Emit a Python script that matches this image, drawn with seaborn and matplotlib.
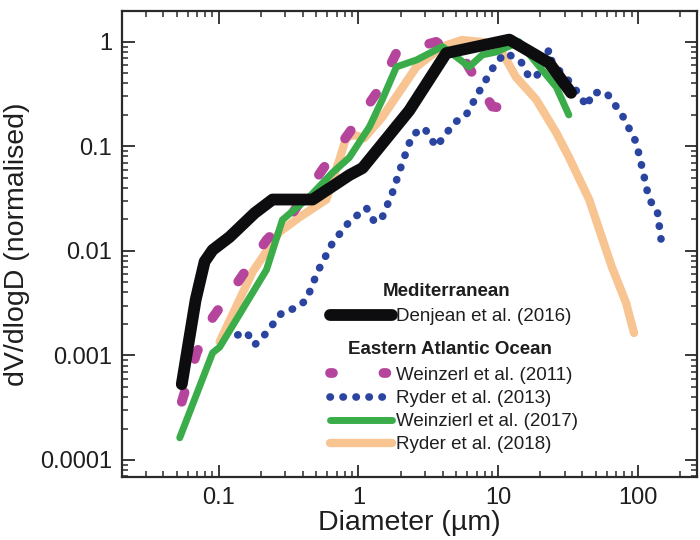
import numpy as np
import pandas as pd
import matplotlib
matplotlib.use('Agg')
import matplotlib.pyplot as plt
import seaborn as sns
from matplotlib.lines import Line2D
from matplotlib.ticker import LogLocator, FuncFormatter, NullFormatter

# Denjean et al. (2016) - Mediterranean
denjean_d = [0.0545, 0.0685, 0.0794, 0.0906, 0.12, 0.181, 0.243, 0.47, 0.86, 1.07, 2.31, 4.25, 12.0, 23.1, 33.2]
denjean_v = [0.00053, 0.0034, 0.0079, 0.0102, 0.0136, 0.023, 0.031, 0.031, 0.053, 0.062, 0.22, 0.78, 1.05, 0.63, 0.325]

# Weinzerl et al. (2011)
weinz11_d = [0.0545, 0.0696, 0.0906, 0.141, 0.22, 0.338, 0.553, 0.86, 1.35, 1.87, 3.6, 5.9, 9.06, 15.3]
weinz11_v = [0.00036, 0.00106, 0.0023, 0.0053, 0.0127, 0.023, 0.06, 0.135, 0.325, 0.785, 1.0, 0.63, 0.24, 0.22]

# Ryder et al. (2013)
ryder13_d = [0.137, 0.158, 0.181, 0.213, 0.286, 0.36, 0.425, 0.51, 0.652, 0.86, 1.14, 1.3, 1.46, 1.75,
             2.06, 2.43, 2.96, 3.6, 4.85, 5.9, 7.56, 9.7, 11.4, 14.6, 16.6, 18.7, 23.1, 24.3, 33.8,
             43.2, 46.9, 59.0, 76.9, 96.8, 108.7, 120.0, 137.0, 146.0]
ryder13_v = [0.00157, 0.00168, 0.00126, 0.00157, 0.0026, 0.00285, 0.0034, 0.0063, 0.0119, 0.019, 0.0258,
             0.019, 0.02, 0.036, 0.0695, 0.129, 0.15, 0.099, 0.168, 0.2, 0.363, 0.64, 0.785, 0.64, 0.46,
             0.46, 0.84, 0.63, 0.39, 0.24, 0.325, 0.33, 0.2, 0.11, 0.057, 0.031, 0.0247, 0.013]

# Weinzierl et al. (2017)
weinz17_d = [0.0527, 0.0906, 0.1017, 0.22, 0.286, 0.447, 0.652, 0.86, 1.2, 1.48, 1.87, 2.6, 3.98, 5.0,
             6.2, 7.7, 9.7, 14.1, 18.7, 26.0, 32.0]
weinz17_v = [0.000163, 0.00106, 0.0012, 0.0066, 0.0198, 0.033, 0.056, 0.078, 0.154, 0.279, 0.576, 0.67,
             0.9, 0.72, 0.576, 0.75, 0.8, 1.0, 0.63, 0.37, 0.2]

# Ryder et al. (2018)
ryder18_d = [0.1017, 0.175, 0.273, 0.379, 0.59, 0.73, 0.82, 0.94, 1.1, 1.48, 2.6, 3.98, 5.5, 8.6, 10.7,
             13.4, 18.7, 26.0, 32.0, 44.7, 65.0, 82.0, 93.6]
ryder18_v = [0.00135, 0.0063, 0.0152, 0.021, 0.031, 0.074, 0.123, 0.128, 0.12, 0.19, 0.576, 0.9, 1.04,
             0.98, 0.785, 0.46, 0.28, 0.135, 0.079, 0.031, 0.007, 0.0032, 0.00164]

x_ticks = [0.1, 1, 10, 100]
y_ticks = [0.0001, 0.001, 0.01, 0.1, 1]

sns.set_style('ticks')
plt.rcParams['font.family'] = ['Liberation Sans', 'DejaVu Sans']
text_col = '#1e1e1e'

fig, ax = plt.subplots(figsize=(7, 5.4), dpi=100)
fig.subplots_adjust(left=0.174, right=0.996, top=0.98, bottom=0.117)

series = [
    (ryder18_d, ryder18_v, '#f7c492', 6.0, '-', 'Ryder et al. (2018)', 1),
    (weinz11_d, weinz11_v, '#b4449c', 7.0, (0, (1.0, 3.6)), 'Weinzerl et al. (2011)', 2),
    (ryder13_d, ryder13_v, '#2a44a0', 5.5, (0, (0.05, 1.65)), 'Ryder et al. (2013)', 3),
    (weinz17_d, weinz17_v, '#3aad4a', 5.0, '-', 'Weinzierl et al. (2017)', 4),
    (denjean_d, denjean_v, '#0d0d10', 8.5, '-', 'Denjean et al. (2016)', 5),
]
handles = {}
for d, v, col, lw, ls, lab, z in series:
    df = pd.DataFrame({'d': d, 'v': v})
    sns.lineplot(data=df, x='d', y='v', ax=ax, color=col, lw=lw, linestyle=ls,
                 sort=False, estimator=None, zorder=z,
                 solid_capstyle='round', dash_capstyle='round', solid_joinstyle='round')
    handles[lab] = ax.lines[-1]

# legend proxy for the dashed series: two rounded dashes at the ends
handles['Weinzerl et al. (2011)'] = Line2D([], [], color='#b4449c', lw=7.0,
                                           linestyle=(0, (0.3, 5.2)), dash_capstyle='round')

ax.set_xscale('log')
ax.set_yscale('log')
ax.set_xlim(0.0203, 265)
ax.set_ylim(6.9e-5, 1.98)

fmt = FuncFormatter(lambda val, pos: '{:g}'.format(val))
ax.xaxis.set_minor_locator(LogLocator(base=10, subs=np.arange(2, 10)))
ax.yaxis.set_minor_locator(LogLocator(base=10, subs=np.arange(2, 10)))
ax.set_xticks(x_ticks)
ax.set_yticks(y_ticks)
ax.xaxis.set_major_formatter(fmt)
ax.yaxis.set_major_formatter(fmt)
ax.xaxis.set_minor_formatter(NullFormatter())
ax.yaxis.set_minor_formatter(NullFormatter())

ax.tick_params(which='both', direction='in', top=True, right=True, colors='#2a2a2a',
               labelcolor=text_col, labelsize=17)
ax.tick_params(which='major', length=9, width=1.3, pad=7)
ax.tick_params(which='minor', length=4.5, width=1.1)
for s in ax.spines.values():
    s.set_linewidth(1.6)
    s.set_color('#2a2a2a')

ax.set_xlabel('Diameter (µm)', fontsize=20.5, color=text_col, labelpad=1)
ax.set_ylabel('dV/dlogD (normalised)', fontsize=20.5, color=text_col, labelpad=7)

leg_kw = dict(frameon=False, fontsize=13.5, handlelength=3.3, handletextpad=0.2,
              labelspacing=0.32, borderpad=0, borderaxespad=0, loc='upper left',
              labelcolor=text_col)
leg1 = ax.legend([handles['Denjean et al. (2016)']], ['Denjean et al. (2016)'],
                 bbox_to_anchor=(0.362, 0.362), **leg_kw)
ax.add_artist(leg1)
labs2 = ['Weinzerl et al. (2011)', 'Ryder et al. (2013)', 'Weinzierl et al. (2017)', 'Ryder et al. (2018)']
ax.legend([handles[l] for l in labs2], labs2, bbox_to_anchor=(0.362, 0.236), **leg_kw)

ax.text(0.454, 0.397, 'Mediterranean', transform=ax.transAxes, fontsize=13.5,
        fontweight='bold', ha='left', va='center', color=text_col)
ax.text(0.393, 0.2725, 'Eastern Atlantic Ocean', transform=ax.transAxes, fontsize=13.5,
        fontweight='bold', ha='left', va='center', color=text_col)

plt.savefig('out.png', dpi=100)
plt.close()
